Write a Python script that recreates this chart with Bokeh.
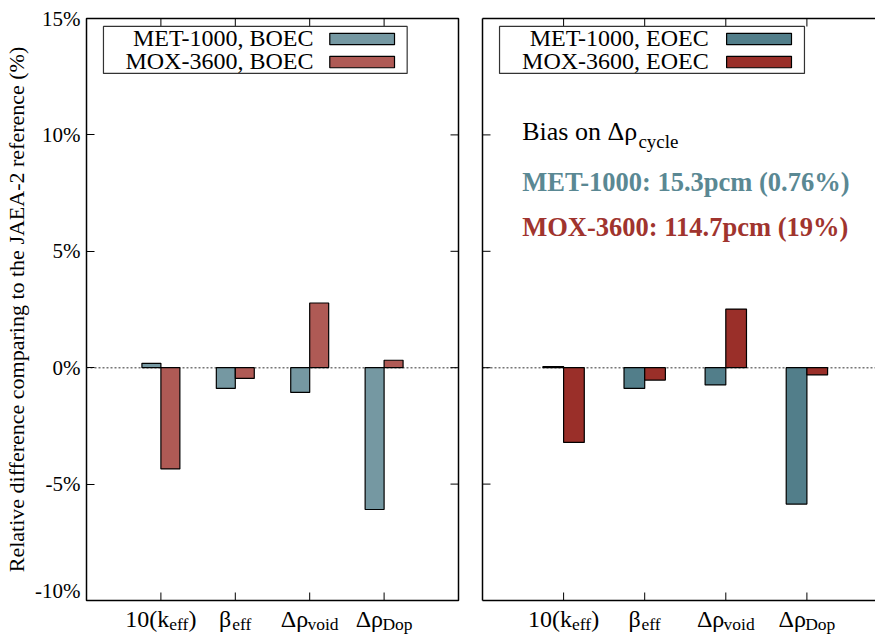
import numpy as np
from bokeh.plotting import figure
from bokeh.models import (Range1d, FixedTicker, LinearAxis, Span, Label,
                          BoxAnnotation, PrintfTickFormatter)
from bokeh.layouts import row, column
from bokeh.embed import file_html
from bokeh.resources import INLINE

# ---------------- data ----------------
categories = [1, 2, 3, 4]
tick_main = ["10(k", "β", "Δρ", "Δρ"]
tick_sub = ["eff", "eff", "void", "Dop"]
tick_tail = [")", "", "", ""]
y_ticks = [-10, -5, 0, 5, 10, 15]

met_boec = [0.19, -0.89, -1.06, -6.09]
mox_boec = [-4.35, -0.46, 2.78, 0.32]
met_eoec = [0.05, -0.89, -0.74, -5.86]
mox_eoec = [-3.21, -0.53, 2.52, -0.31]

labels_left = ["MET-1000, BOEC", "MOX-3600, BOEC"]
labels_right = ["MET-1000, EOEC", "MOX-3600, EOEC"]
bias_title = ["Bias on Δρ", "cycle"]
bias_lines = ["MET-1000: 15.3pcm (0.76%)", "MOX-3600: 114.7pcm (19%)"]
y_title = "Relative difference comparing to the JAEA-2 reference (%)"

# ---------------- style ----------------
FONT = "Liberation Serif"
C_MET_L, C_MOX_L = "#7598A2", "#AF5A55"
C_MET_R, C_MOX_R = "#527E8A", "#9A2F29"
C_TXT_MET, C_TXT_MOX = "#5A8893", "#A0342E"
BAR_W = 0.255
FRAME_H = 582
Y0, Y1 = -10, 15
KY = (Y1 - Y0) / FRAME_H          # data units per pixel (y)
TICK = 8                          # tick length in px

W = {'0': .5, '1': .5, '(': .333, ')': .333, 'k': .5, 'e': .444, 'f': .333,
     'β': .55, 'Δ': .612, 'ρ': .5, 'v': .5, 'o': .5, 'i': .278, 'd': .5,
     'D': .722, 'p': .5, 'c': .444, 'y': .5, 'l': .278, 'B': .667, 'a': .444,
     's': .389, 'n': .5, ' ': .25}


def tw(s, size):
    return sum(W.get(c, .5) for c in s) * size


def base_fig(**kw):
    p = figure(title=None, output_backend="svg", toolbar_location=None,
               x_axis_location=None, y_axis_location=None,
               background_fill_color="white", border_fill_color="white", **kw)
    p.xgrid.visible = False
    p.ygrid.visible = False
    return p


def line_axis(p, side):
    """An axis that draws only its line (no ticks, no labels)."""
    ax = LinearAxis(ticker=FixedTicker(ticks=[]))
    ax.axis_line_color = "black"
    ax.axis_line_width = 1.5
    ax.major_tick_out = 0
    ax.major_tick_in = 0
    ax.major_label_standoff = 0
    ax.minor_tick_line_color = None
    p.add_layout(ax, side)


def add_ticks(p, kx, x_lo, x_hi, left=False, right=False):
    cats = np.array(categories, dtype=float)
    yt = np.array(y_ticks, dtype=float)
    tick_style = dict(line_color="black", line_width=1)
    p.segment(x0=cats, x1=cats, y0=np.full(4, Y1), y1=np.full(4, Y1 - TICK * KY), **tick_style)
    p.segment(x0=cats, x1=cats, y0=np.full(4, Y0), y1=np.full(4, Y0 + TICK * KY), **tick_style)
    if left:
        p.segment(x0=np.full(len(yt), x_lo), x1=np.full(len(yt), x_lo + TICK * kx),
                  y0=yt, y1=yt, **tick_style)
    if right:
        p.segment(x0=np.full(len(yt), x_hi - TICK * kx), x1=np.full(len(yt), x_hi),
                  y0=yt, y1=yt, **tick_style)


def add_bars_and_legend(p, met, mox, c_met, c_mox, leg_labels, leg_box,
                        leg_text_x, leg_sw):
    p.add_layout(Span(location=0, dimension="width", line_color="#777777",
                      line_width=1.5, line_dash="2 2", level="underlay"))
    xs = np.array(categories, dtype=float)
    p.vbar(x=xs - BAR_W / 2, top=met, bottom=0, width=BAR_W,
           fill_color=c_met, line_color="black", line_width=1.2)
    p.vbar(x=xs + BAR_W / 2, top=mox, bottom=0, width=BAR_W,
           fill_color=c_mox, line_color="black", line_width=1.2)
    l, r, b, t = leg_box
    p.add_layout(BoxAnnotation(left=l, right=r, bottom=b, top=t,
                               fill_color="white", fill_alpha=1,
                               line_color="#333333", line_alpha=1,
                               line_width=1.2))
    for lab, col, yc in zip(leg_labels, [c_met, c_mox], [14.12, 13.13]):
        p.add_layout(Label(x=leg_text_x, y=yc, y_offset=1, text=lab,
                           text_font=FONT, text_font_size="24px",
                           text_color="black", text_align="right",
                           text_baseline="middle"))
        p.add_layout(BoxAnnotation(left=leg_sw[0], right=leg_sw[1],
                                   bottom=yc - 0.245, top=yc + 0.245,
                                   fill_color=col, fill_alpha=1,
                                   line_color="black", line_alpha=1,
                                   line_width=1.2))


def add_cat_labels(s):
    for x, m, sb, t in zip(categories, tick_main, tick_sub, tick_tail):
        wm, ws, wt = tw(m, 24), tw(sb, 17.5), tw(t, 24)
        x0 = -(wm + ws + wt) / 2
        common = dict(text_font=FONT, text_color="black", text_align="left",
                      text_baseline="middle")
        s.add_layout(Label(x=x, y=16, x_offset=x0, text=m,
                           text_font_size="24px", **common))
        s.add_layout(Label(x=x, y=21.5, x_offset=x0 + wm, text=sb,
                           text_font_size="17.5px", **common))
        if t:
            s.add_layout(Label(x=x, y=16, x_offset=x0 + wm + ws, text=t,
                               text_font_size="24px", **common))


# ---------------- left panel ----------------
FW1 = 372
X1_END = 5.0
KX1 = X1_END / FW1
p1 = base_fig(frame_width=FW1, frame_height=FRAME_H,
              x_range=Range1d(0, X1_END), y_range=Range1d(Y0, Y1),
              min_border_left=86, min_border_right=12,
              min_border_top=18, min_border_bottom=2)
p1.outline_line_color = "black"
p1.outline_line_width = 1.5
p1.outline_line_alpha = 1
yl = LinearAxis(ticker=FixedTicker(ticks=y_ticks),
                formatter=PrintfTickFormatter(format="%d%%"),
                axis_label=y_title)
yl.axis_line_color = None
yl.major_tick_in = TICK
yl.major_tick_out = 0
yl.major_tick_line_color = "black"
yl.minor_tick_line_color = None
yl.major_label_text_font = FONT
yl.major_label_text_font_size = "21px"
yl.major_label_text_color = "black"
yl.major_label_standoff = 6
yl.axis_label_text_font = FONT
yl.axis_label_text_font_size = "22px"
yl.axis_label_text_font_style = "normal"
yl.axis_label_text_color = "black"
yl.axis_label_standoff = 3
p1.add_layout(yl, "left")
add_ticks(p1, KX1, 0, X1_END, right=True)
add_bars_and_legend(p1, met_boec, mox_boec, C_MET_L, C_MOX_L, labels_left,
                    (0.228, 4.31, 12.64, 14.66), 3.05, (3.27, 4.14))

# ---------------- right panel (cut off at the right edge) ----------------
PX2 = 81.1                       # px per category unit
FW2 = 393
X2_END = FW2 / PX2
KX2 = 1 / PX2
p2 = base_fig(frame_width=FW2, frame_height=FRAME_H,
              x_range=Range1d(0, X2_END), y_range=Range1d(Y0, Y1),
              min_border_left=12, min_border_right=0,
              min_border_top=18, min_border_bottom=2)
p2.outline_line_color = None
line_axis(p2, "left")
line_axis(p2, "above")
line_axis(p2, "below")
add_ticks(p2, KX2, 0, X2_END, left=True)
add_bars_and_legend(p2, met_eoec, mox_eoec, C_MET_R, C_MOX_R, labels_right,
                    (0.21, 3.97, 12.64, 14.66), 2.79, (3.01, 3.81))

p2.add_layout(Label(x=0.49, y=10.14, text=bias_title[0], text_font=FONT,
                    text_font_size="26px", text_color="black",
                    text_align="left", text_baseline="middle"))
p2.add_layout(Label(x=0.49, y=9.73, x_offset=tw(bias_title[0], 26) + 2,
                    text=bias_title[1], text_font=FONT,
                    text_font_size="19px", text_color="black",
                    text_align="left", text_baseline="middle"))
for txt, col, yb in zip(bias_lines, [C_TXT_MET, C_TXT_MOX], [7.96, 6.06]):
    p2.add_layout(Label(x=0.49, y=yb, text=txt, text_font=FONT,
                        text_font_size="26.5px", text_font_style="bold",
                        text_color=col, text_align="left",
                        text_baseline="middle"))

# ---------------- category label strips ----------------
STRIP_H = 33
s1 = base_fig(frame_width=FW1, frame_height=STRIP_H,
              x_range=p1.x_range, y_range=Range1d(STRIP_H, 0),
              min_border_left=86, min_border_right=12,
              min_border_top=0, min_border_bottom=0)
s1.outline_line_color = None
add_cat_labels(s1)
s2 = base_fig(frame_width=FW2, frame_height=STRIP_H,
              x_range=p2.x_range, y_range=Range1d(STRIP_H, 0),
              min_border_left=12, min_border_right=0,
              min_border_top=0, min_border_bottom=0)
s2.outline_line_color = None
add_cat_labels(s2)

layout = column(row(p1, p2, spacing=0), row(s1, s2, spacing=0), spacing=0)
open("out.html", "w").write(file_html(layout, INLINE))
